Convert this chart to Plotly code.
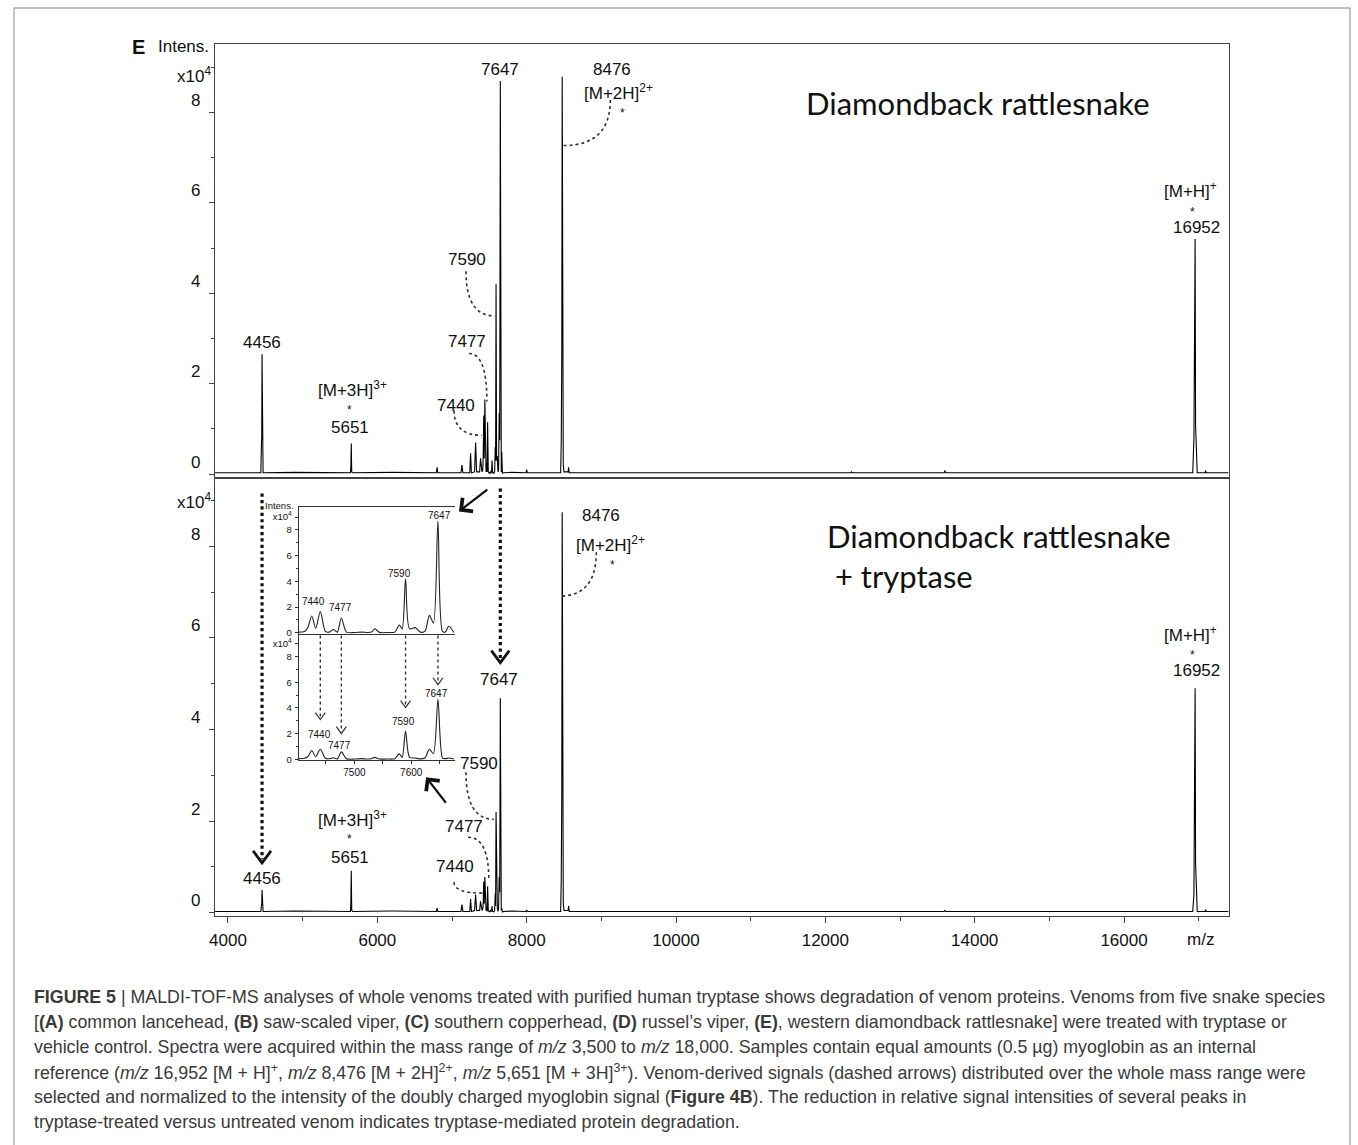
import plotly.graph_objects as go

W, H = 1358, 1145

# ---------------------------------------------------------------- data
# Intensities are in units of 10^4 counts.

# 7400-7680 cluster, untreated venom (trace vertices)
cluster_mz = [7402, 7412, 7418, 7425, 7432, 7440, 7449, 7456, 7463, 7470, 7477, 7486,
              7500, 7514, 7522, 7530, 7536, 7544, 7560, 7571, 7579, 7584, 7590, 7597,
              7607, 7616, 7624, 7632, 7639, 7647, 7655, 7660, 7666, 7675]
cluster_ctrl = [0.05, 0.1, 0.4, 1.3, 0.35, 1.65, 0.1, 0.05, 0.25, 0.05, 1.15, 0.05,
                0.02, 0.05, 0.02, 0.05, 0.3, 0.03, 0.02, 0.05, 0.6, 0.3, 4.2, 0.3,
                0.4, 0.05, 0.1, 1.35, 0.75, 8.7, 0.1, 0.05, 0.5, 0.02]
# same cluster after tryptase treatment
cluster_tryp = [0.05, 0.08, 0.2, 0.68, 0.2, 0.78, 0.08, 0.05, 0.12, 0.03, 0.58, 0.05,
                0.02, 0.05, 0.02, 0.05, 0.15, 0.03, 0.02, 0.05, 0.42, 0.15, 2.2, 0.15,
                0.1, 0.03, 0.1, 0.78, 0.45, 4.68, 0.1, 0.05, 0.1, 0.02]

# full-range spectrum, untreated: vertices before and after the cluster
ctrl_pre_mz = [3827, 4200, 4440, 4449, 4452, 4456, 4460, 4470, 4900, 5300, 5640, 5646,
               5651, 5657, 5670, 6200, 6790, 6800, 6810, 7120, 7133, 7146, 7238, 7249,
               7260, 7302, 7316, 7330, 7370, 7382, 7394]
ctrl_pre_int = [0.03, 0.03, 0.03, 0.75, 0.8, 2.65, 0.3, 0.03, 0.04, 0.03, 0.03, 0.2,
                0.68, 0.05, 0.03, 0.04, 0.03, 0.15, 0.03, 0.03, 0.2, 0.03, 0.03, 0.46,
                0.03, 0.05, 0.7, 0.05, 0.05, 0.35, 0.05]
ctrl_post_mz = [7690, 7800, 7990, 8000, 8010, 8455, 8463, 8470, 8476, 8482, 8490, 8500,
                8554, 8562, 8570, 9500, 12340, 12350, 12360, 13590, 13600, 13610,
                16920, 16936, 16944, 16952, 16958, 16966, 16980, 17085, 17093, 17100, 17400]
ctrl_post_int = [0.03, 0.04, 0.03, 0.1, 0.03, 0.03, 0.68, 2.56, 8.79, 0.7, 0.2, 0.05,
                 0.05, 0.15, 0.03, 0.03, 0.03, 0.05, 0.03, 0.03, 0.08, 0.03,
                 0.03, 0.8, 2.93, 5.2, 1.08, 0.4, 0.03, 0.03, 0.08, 0.03, 0.03]

# full-range spectrum, tryptase-treated
tryp_pre_mz = ctrl_pre_mz
tryp_pre_int = [0.03, 0.03, 0.03, 0.18, 0.18, 0.5, 0.1, 0.03, 0.04, 0.03, 0.03, 0.25,
                0.92, 0.05, 0.03, 0.04, 0.03, 0.1, 0.03, 0.03, 0.18, 0.03, 0.03, 0.3,
                0.03, 0.05, 0.4, 0.05, 0.05, 0.25, 0.05]
tryp_post_mz = ctrl_post_mz
tryp_post_int = [0.03, 0.04, 0.03, 0.06, 0.03, 0.03, 0.7, 2.5, 8.74, 0.7, 0.2, 0.05,
                 0.05, 0.15, 0.03, 0.03, 0.03, 0.04, 0.03, 0.03, 0.05, 0.03,
                 0.03, 0.4, 2.75, 4.9, 1.1, 0.4, 0.03, 0.03, 0.07, 0.03, 0.03]

x_ticks = [4000, 6000, 8000, 10000, 12000, 14000, 16000]
x_minor = [5000, 7000, 9000, 11000, 13000, 15000, 17000]
y_ticks = [0, 2, 4, 6, 8]
y_minor = [1, 3, 5, 7, 9]
inset_x_ticks = [7500, 7600]
inset_x_minor = [7450, 7550, 7650]

caption_lines = [
    "<b>FIGURE 5</b> | MALDI-TOF-MS analyses of whole venoms treated with purified human tryptase shows degradation of venom proteins. Venoms from five snake species",
    "[<b>(A)</b> common lancehead, <b>(B)</b> saw-scaled viper, <b>(C)</b> southern copperhead, <b>(D)</b> russel’s viper, <b>(E)</b>, western diamondback rattlesnake] were treated with tryptase or",
    "vehicle control. Spectra were acquired within the mass range of <i>m/z</i> 3,500 to <i>m/z</i> 18,000. Samples contain equal amounts (0.5 µg) myoglobin as an internal",
    "reference (<i>m/z</i> 16,952 [M + H]<sup>+</sup>, <i>m/z</i> 8,476 [M + 2H]<sup>2+</sup>, <i>m/z</i> 5,651 [M + 3H]<sup>3+</sup>). Venom-derived signals (dashed arrows) distributed over the whole mass range were",
    "selected and normalized to the intensity of the doubly charged myoglobin signal (<b>Figure 4B</b>). The reduction in relative signal intensities of several peaks in",
    "tryptase-treated versus untreated venom indicates tryptase-mediated protein degradation.",
]

# ---------------------------------------------------------------- layout helpers
def px(x):
    return x / W


def py(y):
    return 1 - y / H


FONT = "Liberation Sans, Arial, sans-serif"
TITLE_FONT = "Lato, Open Sans, sans-serif"
INK = "#111111"
AXIS = "#444444"

MAIN_X = [px(210), px(1228)]
TOP_Y = [py(479), py(44)]
BOT_Y = [py(919), py(481)]
INSET_X = [px(294), px(451)]
INSET_TOP_Y = [py(636), py(509)]
INSET_BOT_Y = [py(763), py(637)]

X_RANGE = [3827, 17400]
TOP_RANGE = [-0.07, 9.52]
BOT_RANGE = [-0.065, 9.46]
INSET_RANGE_X = [7402, 7677]

# pixel scales (used to size arrow heads)
MZ_PER_PX = (X_RANGE[1] - X_RANGE[0]) / 1018.0
BOT_INT_PER_PX = (BOT_RANGE[1] - BOT_RANGE[0]) / 438.0
IN_MZ_PER_PX = (INSET_RANGE_X[1] - INSET_RANGE_X[0]) / 157.0
IN_INT_PER_PX = 9.78 / 126.0

fig = go.Figure()

line_style = dict(color="#000000", width=1.1)
fig.add_trace(go.Scatter(x=ctrl_pre_mz + cluster_mz + ctrl_post_mz,
                         y=ctrl_pre_int + cluster_ctrl + ctrl_post_int,
                         xaxis="x2", yaxis="y2", mode="lines", line=line_style,
                         hoverinfo="skip", showlegend=False))
fig.add_trace(go.Scatter(x=tryp_pre_mz + cluster_mz + tryp_post_mz,
                         y=tryp_pre_int + cluster_tryp + tryp_post_int,
                         xaxis="x", yaxis="y", mode="lines", line=line_style,
                         hoverinfo="skip", showlegend=False))
inset_line = dict(color="#222222", width=1.1, shape="spline", smoothing=0.8)
fig.add_trace(go.Scatter(x=cluster_mz, y=cluster_ctrl, xaxis="x3", yaxis="y3",
                         mode="lines", line=inset_line, hoverinfo="skip", showlegend=False))
fig.add_trace(go.Scatter(x=cluster_mz, y=cluster_tryp, xaxis="x4", yaxis="y4",
                         mode="lines", line=inset_line, hoverinfo="skip", showlegend=False))

main_y = dict(showline=True, linecolor=AXIS, linewidth=1, mirror=True,
              ticks="outside", ticklen=5, tickcolor=AXIS, tickvals=y_ticks,
              showticklabels=False, showgrid=False, zeroline=False,
              minor=dict(tickvals=y_minor, ticks="outside", ticklen=3, tickcolor=AXIS))
inset_y = dict(showline=True, linecolor="#333333", linewidth=1, mirror=False,
               ticks="outside", ticklen=3, tickcolor="#333333", tickvals=y_ticks + [9],
               ticktext=[str(v) for v in y_ticks] + ["x10<sup>4</sup>"],
               tickfont=dict(family=FONT, size=9.5, color=INK), showgrid=False,
               zeroline=False, ticklabelstandoff=1,
               minor=dict(tickvals=[1, 3, 5, 7], ticks="outside", ticklen=2,
                          tickcolor="#333333"))

fig.update_layout(
    width=W, height=H, autosize=False,
    margin=dict(l=0, r=0, t=0, b=0),
    paper_bgcolor="white", plot_bgcolor="rgba(0,0,0,0)",
    showlegend=False,
    xaxis=dict(domain=MAIN_X, anchor="y", range=X_RANGE, showline=True, linecolor=AXIS,
               linewidth=1, mirror=True, ticks="outside", ticklen=6, tickcolor=AXIS,
               tickvals=x_ticks, ticktext=[str(v) for v in x_ticks],
               tickfont=dict(family=FONT, size=17, color=INK), ticklabelstandoff=3,
               showgrid=False, zeroline=False,
               minor=dict(tickvals=x_minor, ticks="outside", ticklen=4, tickcolor=AXIS)),
    yaxis=dict(main_y, domain=BOT_Y, anchor="x", range=BOT_RANGE),
    xaxis2=dict(domain=MAIN_X, anchor="y2", range=X_RANGE, matches="x", showline=True,
                linecolor=AXIS, linewidth=1, mirror=True, ticks="", showticklabels=False,
                showgrid=False, zeroline=False),
    yaxis2=dict(main_y, domain=TOP_Y, anchor="x2", range=TOP_RANGE),
    xaxis3=dict(domain=INSET_X, anchor="y3", range=INSET_RANGE_X, showline=True,
                linecolor="#333333", linewidth=1, mirror=True, ticks="",
                showticklabels=False, showgrid=False, zeroline=False),
    yaxis3=dict(inset_y, domain=INSET_TOP_Y, anchor="x3", range=[-0.08, 9.77]),
    xaxis4=dict(domain=INSET_X, anchor="y4", range=INSET_RANGE_X, showline=True,
                linecolor="#333333", linewidth=1, mirror=False, ticks="outside",
                ticklen=3, tickcolor="#333333", tickvals=inset_x_ticks,
                ticktext=[str(v) for v in inset_x_ticks],
                tickfont=dict(family=FONT, size=10, color=INK), ticklabelstandoff=0,
                showgrid=False, zeroline=False,
                minor=dict(tickvals=inset_x_minor, ticks="outside", ticklen=3,
                           tickcolor="#333333")),
    yaxis4=dict(inset_y, domain=INSET_BOT_Y, anchor="x4", range=[-0.08, 9.7]),
)

annotations = []


def text(x, y, s, size=17, xref="paper", yref="paper", xanchor="center",
         yanchor="middle", family=FONT, color=INK, yshift=0):
    annotations.append(dict(x=x, y=y, xref=xref, yref=yref, text=s, showarrow=False,
                            xanchor=xanchor, yanchor=yanchor, yshift=yshift,
                            font=dict(family=family, size=size, color=color)))


# panel letter and axis title
text(px(133), py(47), "<b>E</b>", size=20)
text(px(206), py(47), "Intens.", size=17, xanchor="right")

# y tick labels of the main panels (printed just above each tick)
for v in y_ticks:
    text(px(197), v, str(v), size=17, yref="y2", xanchor="right", yshift=12)
    text(px(197), v, str(v), size=17, yref="y", xanchor="right", yshift=12)
text(px(208), py(75), "x10<sup>4</sup>", size=17, xanchor="right")
text(px(208), py(503), "x10<sup>4</sup>", size=17, xanchor="right")
text(px(1200), py(943), "m/z", size=17)

# inset axis title
text(px(291), py(507), "Intens.", size=9.5, xanchor="right")

# peak labels, untreated panel
for x, y, s, sz in [(7647, 8.96, "7647", 17), (9147, 8.96, "8476", 17),
                    (9227, 8.46, "[M+2H]<sup>2+</sup>", 17), (9280, 7.98, "*", 12),
                    (7200, 4.76, "7590", 17), (7200, 2.93, "7477", 17),
                    (7053, 1.52, "7440", 17), (4453, 2.91, "4456", 17),
                    (5667, 1.89, "[M+3H]<sup>3+</sup>", 17), (5627, 1.43, "*", 12),
                    (5640, 1.03, "5651", 17), (16893, 6.28, "[M+H]<sup>+</sup>", 17),
                    (16920, 5.79, "*", 12), (16973, 5.45, "16952", 17)]:
    text(x, y, s, size=sz, xref="x2", yref="y2")
text(14040, 8.22, "Diamondback rattlesnake", size=31, xref="x2", yref="y2",
     family=TITLE_FONT)

# peak labels, tryptase panel
for x, y, s, sz in [(7630, 5.09, "7647", 17), (9000, 8.67, "8476", 17),
                    (9120, 8.04, "[M+2H]<sup>2+</sup>", 17), (9147, 7.58, "*", 12),
                    (7360, 3.26, "7590", 17), (7160, 1.89, "7477", 17),
                    (7040, 1.02, "7440", 17), (4453, 0.74, "4456", 17),
                    (5667, 2.04, "[M+3H]<sup>3+</sup>", 17), (5627, 1.6, "*", 12),
                    (5640, 1.2, "5651", 17), (16893, 6.09, "[M+H]<sup>+</sup>", 17),
                    (16920, 5.62, "*", 12), (16973, 5.29, "16952", 17)]:
    text(x, y, s, size=sz, xref="x", yref="y")
text(12000, 8.22, "Diamondback rattlesnake", size=31, xref="x", yref="y",
     xanchor="left", family=TITLE_FONT)
text(12000, 7.35, " + tryptase", size=31, xref="x", yref="y",
     xanchor="left", family=TITLE_FONT)

# inset peak labels
for x, y, s in [(7428, 2.4, "7440"), (7476, 2.0, "7477"), (7579, 4.65, "7590"),
                (7649, 9.15, "7647")]:
    text(x, y, s, size=10, xref="x3", yref="y3")
for x, y, s in [(7439, 1.94, "7440"), (7474, 1.09, "7477"), (7586, 2.95, "7590"),
                (7644, 5.1, "7647")]:
    text(x, y, s, size=10, xref="x4", yref="y4")

# solid pointer arrows linking the inset to the cluster
for (hx, hy), (tx, ty) in [((7093, 8.76), (7493, 9.26)), ((6653, 2.96), (6933, 2.37))]:
    annotations.append(dict(x=hx, y=hy, ax=tx, ay=ty, xref="x", yref="y", axref="x",
                            ayref="y", text="", showarrow=True, arrowhead=4,
                            arrowsize=1.5, arrowwidth=2.2, arrowcolor="#111111"))

# caption
for i, line in enumerate(caption_lines):
    text(px(26), py(1000 + 25.2 * i), line, size=17.8, xanchor="left",
         color="#3a3a3a")

fig.update_layout(annotations=annotations)

shapes = []

# outer figure frame
shapes.append(dict(type="rect", xref="paper", yref="paper", x0=px(8), x1=px(1350),
                   y0=-0.02, y1=py(8), line=dict(color="#b0b0b0", width=1.5)))


def curve(xref, yref, p0, ctrl, p1):
    shapes.append(dict(type="path", xref=xref, yref=yref,
                       path=f"M {p0[0]},{p0[1]} Q {ctrl[0]},{ctrl[1]} {p1[0]},{p1[1]}",
                       line=dict(color="#333333", width=1.6, dash="dot")))


# dotted leader curves, untreated panel
curve("x2", "y2", (9120, 8.28), (9120, 7.27), (8493, 7.27))
curve("x2", "y2", (7187, 4.49), (7187, 3.50), (7573, 3.50))
curve("x2", "y2", (7227, 2.67), (7467, 2.67), (7467, 1.61))
curve("x2", "y2", (7027, 1.41), (7027, 0.86), (7400, 0.86))
# dotted leader curves, tryptase panel
curve("x", "y", (8933, 7.87), (8933, 6.91), (8440, 6.91))
curve("x", "y", (7187, 3.07), (7187, 2.04), (7560, 2.04))
curve("x", "y", (7213, 1.65), (7493, 1.65), (7493, 0.72))
curve("x", "y", (7027, 0.67), (7027, 0.43), (7413, 0.43))


def dotted_arrow(xref, yref, x, y0, y1, width, half_w, head_h, color="#111111"):
    shapes.append(dict(type="line", xref=xref, yref=yref, x0=x, x1=x, y0=y0,
                       y1=y1 + head_h * 0.3,
                       line=dict(color=color, width=width, dash="dot")))
    shapes.append(dict(type="path", xref=xref, yref=yref,
                       path=f"M {x - half_w},{y1 + head_h} L {x},{y1} L {x + half_w},{y1 + head_h}",
                       line=dict(color=color, width=width * 0.85)))


# long arrows marking the signals carried into the treated spectrum
dotted_arrow("x", "y", 7647, 9.26, 5.46, 3.2, 9 * MZ_PER_PX, 12 * BOT_INT_PER_PX)
dotted_arrow("x", "y", 4456, 9.15, 1.09, 3.2, 9 * MZ_PER_PX, 12 * BOT_INT_PER_PX)
# short arrows inside the lower inset
for mz, tip in [(7440, 3.1), (7477, 2.0), (7590, 4.03), (7647, 5.81)]:
    dotted_arrow("x4", "y4", mz, 9.65, tip, 1.4, 5 * IN_MZ_PER_PX, 7 * IN_INT_PER_PX,
                 color="#333333")

fig.update_layout(shapes=shapes)

fig.write_html("out.html")
